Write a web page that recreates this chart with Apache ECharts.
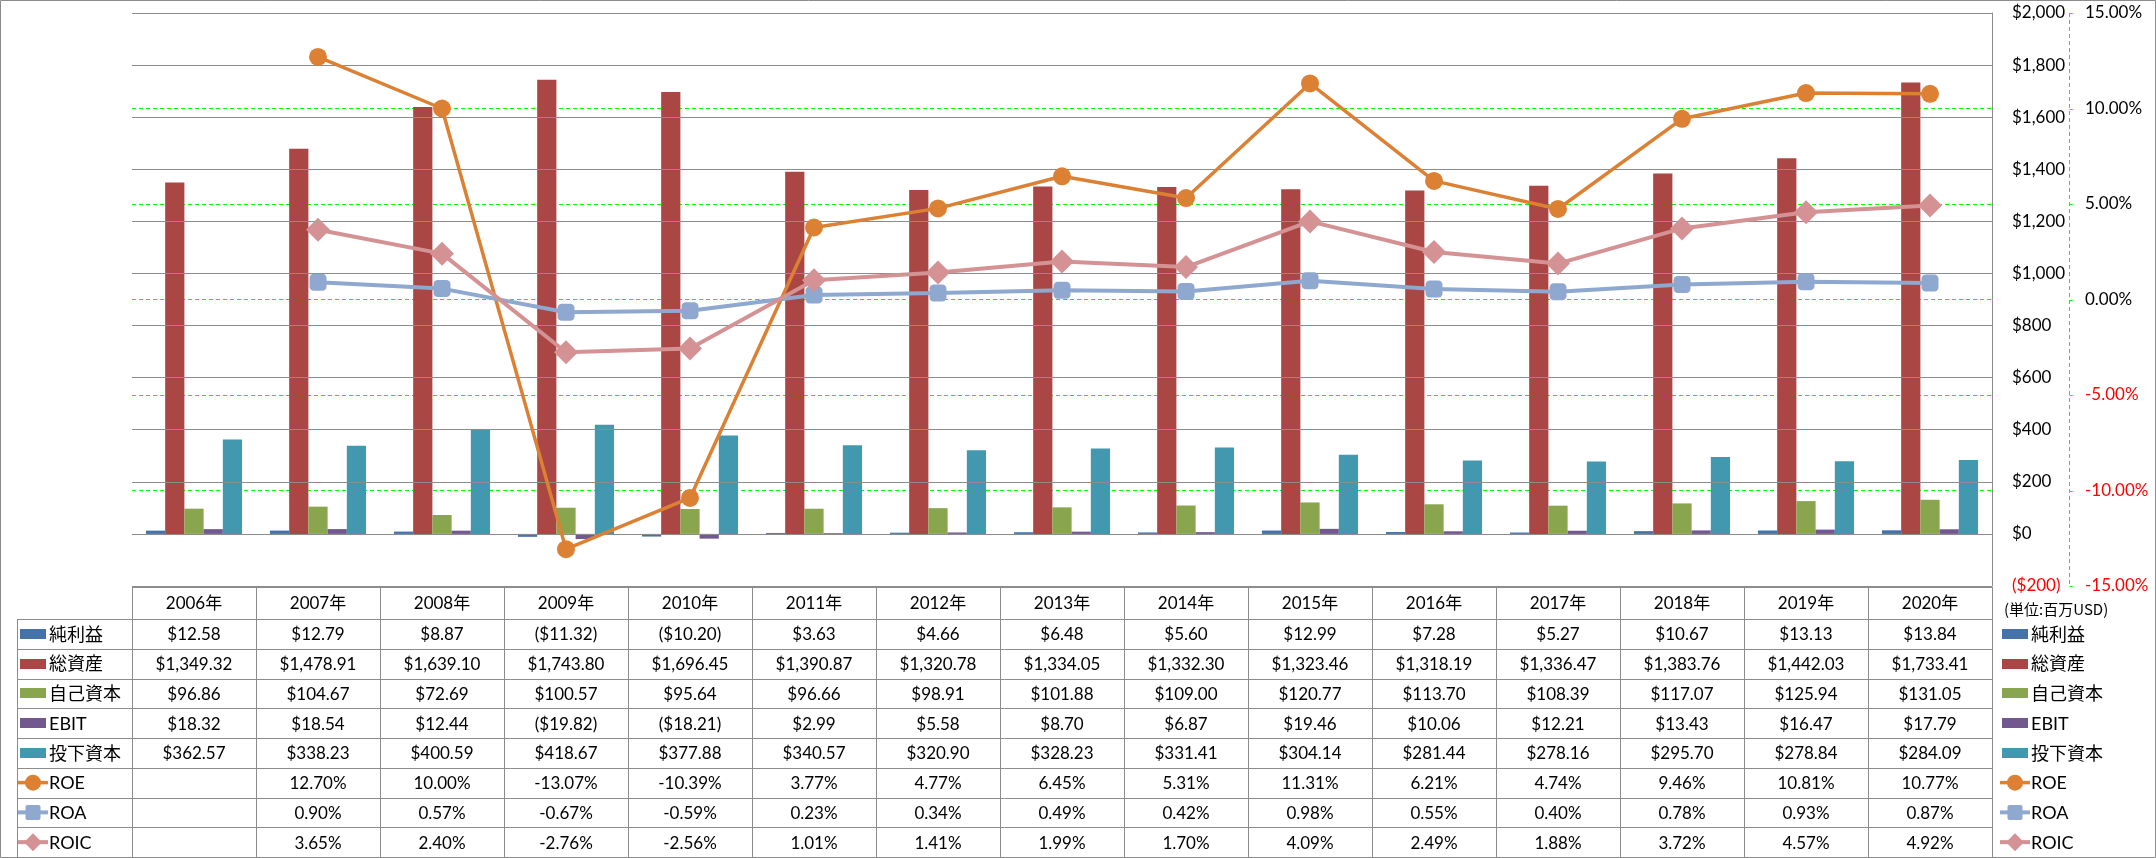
<!DOCTYPE html>
<html>
<head>
<meta charset="utf-8">
<script src="https://cdn.jsdelivr.net/npm/echarts@6/dist/echarts.min.js"></script>
<style>
html,body{margin:0;padding:0;background:#fff;}
#chart{width:2156px;height:858px;}
</style>
</head>
<body>
<div id="chart"></div>
<script>
const years = ['2006年','2007年','2008年','2009年','2010年','2011年','2012年','2013年','2014年','2015年','2016年','2017年','2018年','2019年','2020年'];
const netIncome = [12.58, 12.79, 8.87, -11.32, -10.20, 3.63, 4.66, 6.48, 5.60, 12.99, 7.28, 5.27, 10.67, 13.13, 13.84];
const totalAssets = [1349.32, 1478.91, 1639.10, 1743.80, 1696.45, 1390.87, 1320.78, 1334.05, 1332.30, 1323.46, 1318.19, 1336.47, 1383.76, 1442.03, 1733.41];
const equity = [96.86, 104.67, 72.69, 100.57, 95.64, 96.66, 98.91, 101.88, 109.00, 120.77, 113.70, 108.39, 117.07, 125.94, 131.05];
const ebit = [18.32, 18.54, 12.44, -19.82, -18.21, 2.99, 5.58, 8.70, 6.87, 19.46, 10.06, 12.21, 13.43, 16.47, 17.79];
const investedCapital = [362.57, 338.23, 400.59, 418.67, 377.88, 340.57, 320.90, 328.23, 331.41, 304.14, 281.44, 278.16, 295.70, 278.84, 284.09];
const roe = [null, 12.70, 10.00, -13.07, -10.39, 3.77, 4.77, 6.45, 5.31, 11.31, 6.21, 4.74, 9.46, 10.81, 10.77];
const roa = [null, 0.90, 0.57, -0.67, -0.59, 0.23, 0.34, 0.49, 0.42, 0.98, 0.55, 0.40, 0.78, 0.93, 0.87];
const roic = [null, 3.65, 2.40, -2.76, -2.56, 1.01, 1.41, 1.99, 1.70, 4.09, 2.49, 1.88, 3.72, 4.57, 4.92];
const pctTicks = [-15, -10, -5, 0, 5, 10, 15];

const barNames = ['純利益','総資産','自己資本','EBIT','投下資本'];
const lineNames = ['ROE','ROA','ROIC'];
const unitLabel = '(単位:百万USD)';

const barData = [netIncome, totalAssets, equity, ebit, investedCapital];
const lineData = [roe, roa, roic];
const barColors = ['#4572A7','#AA4643','#89A54E','#71588F','#4198AF'];
const lineColors = ['#DC8134','#8EA8CF','#D49294'];
const lineSymbols = ['circle','roundRect','diamond'];
const lineSymbolSizes = [18, 17, 24];
const lineWidths = [3.5, 4, 4];

const FONT = 'Lato, "Noto Sans CJK JP", sans-serif';
const CJK = '"Noto Sans CJK JP", sans-serif';

// layout
const GL = 132, GR = 1992, GT = 13, GB = 587, HB = 619, TB = 857, LC = 17;
const PCT_OFFSET = 77;
const colW = (GR - GL) / years.length;
const rowH = (TB - HB) / 8;

function fmtUSD(v){
  const s = '$' + Math.abs(v).toLocaleString('en-US',{minimumFractionDigits:2, maximumFractionDigits:2});
  return v < 0 ? '(' + s + ')' : s;
}
function fmtPct(v){
  return v == null ? '' : v.toFixed(2) + '%';
}

const series = [];
barNames.forEach((n, i) => {
  series.push({
    name: n, type: 'bar', yAxisIndex: 0, data: barData[i],
    barGap: '0%', barCategoryGap: '22.5%',
    itemStyle: {color: barColors[i]}
  });
});
lineNames.forEach((n, i) => {
  series.push({
    name: n, type: 'line', yAxisIndex: 1, data: lineData[i],
    symbol: lineSymbols[i], symbolSize: lineSymbolSizes[i],
    lineStyle: {color: lineColors[i], width: lineWidths[i]},
    itemStyle: {color: lineColors[i]},
    z: 3
  });
});

const chart = echarts.init(document.getElementById('chart'), null, {renderer:'canvas'});
chart.setOption({
  backgroundColor:'#fff',
  animation:false,
  textStyle:{fontFamily:FONT},
  grid:{left:GL, top:GT, width:GR - GL, height:GB - GT - 1, containLabel:false, show:false},
  xAxis:{
    type:'category', data:years, boundaryGap:true,
    axisLine:{show:false}, axisTick:{show:false}, axisLabel:{show:false}, splitLine:{show:false}
  },
  yAxis:[
    {
      type:'value', position:'right', min:-200, max:2000, interval:200, z:3,
      axisLine:{show:true, lineStyle:{color:'#8C8C8C', width:1}},
      axisTick:{show:false},
      splitLine:{show:true, lineStyle:{color:'#8C8C8C', width:1}},
      axisLabel:{
        margin:20, fontSize:17, fontFamily:FONT, color:'#000',
        formatter: v => v < 0 ? '{neg|($' + Math.abs(v).toLocaleString('en-US') + ')}' : '$' + v.toLocaleString('en-US'),
        rich:{neg:{color:'#FF0000', fontSize:17, fontFamily:FONT}}
      }
    },
    {
      type:'value', position:'right', offset:PCT_OFFSET, min:-15, max:15, interval:5, z:1,
      axisLine:{show:false},
      axisTick:{show:false},
      splitLine:{show:true, showMinLine:false, showMaxLine:false, lineStyle:{color:'#00FF00', width:1, type:[4,3]}},
      axisLabel:{
        margin:16, fontSize:17, fontFamily:FONT, color:'#000',
        formatter: v => v < 0 ? '{neg|' + v.toFixed(2) + '%}' : v.toFixed(2) + '%',
        rich:{neg:{color:'#FF0000', fontSize:17, fontFamily:FONT}}
      }
    }
  ],
  series:series
});

// graphics: table, keys, secondary axis line
const g = [];
const lineStyle = {stroke: '#8C8C8C', lineWidth: 1};
function px(v){ return Math.round(v) + 0.5; }
g.push({type:'rect', shape:{x:0.5, y:0.5, width:2155, height:857}, style:{fill:'none', stroke:'#8C8C8C', lineWidth:1}, silent:true});

// secondary (percent) axis line and ticks, positioned with the axis scale
const axX = px(GR + PCT_OFFSET);
const yTop = chart.convertToPixel({yAxisIndex:1}, 15);
const yBot = chart.convertToPixel({yAxisIndex:1}, -15);
g.push({type:'line', shape:{x1:axX, y1:yTop, x2:axX, y2:yBot}, style:{stroke:'#00FF00', lineWidth:1, lineDash:[4,3]}, silent:true});
pctTicks.forEach(v => {
  const y = px(chart.convertToPixel({yAxisIndex:1}, v));
  g.push({type:'line', shape:{x1:axX, y1:y, x2:axX + 3, y2:y}, style:{stroke:'#00FF00', lineWidth:1}, silent:true});
});

g.push({type:'line', shape:{x1:GL, y1:px(GB), x2:GR, y2:px(GB)}, style:lineStyle, silent:true});
for (let k = 0; k <= 8; k++) {
  const y = px(HB + k * rowH);
  g.push({type:'line', shape:{x1:LC, y1:y, x2:GR, y2:y}, style:lineStyle, silent:true});
}
g.push({type:'line', shape:{x1:px(LC), y1:HB, x2:px(LC), y2:TB}, style:lineStyle, silent:true});
for (let i = 0; i <= years.length; i++) {
  const x = px(GL + i * colW);
  g.push({type:'line', shape:{x1:x, y1:GB, x2:x, y2:TB}, style:lineStyle, silent:true});
}
const CELL_FONT = '17px ' + FONT;
years.forEach((yr, i) => {
  const cx = GL + (i + 0.5) * colW;
  g.push({type:'text', x:cx, y:(GB + HB) / 2 + 1, style:{text:yr, font:CELL_FONT, fill:'#000', align:'center', verticalAlign:'middle'}, silent:true});
  barData.forEach((arr, r) => {
    g.push({type:'text', x:cx, y:HB + (r + 0.5) * rowH + 1, style:{text:fmtUSD(arr[i]), font:CELL_FONT, fill:'#000', align:'center', verticalAlign:'middle'}, silent:true});
  });
  lineData.forEach((arr, r) => {
    g.push({type:'text', x:cx, y:HB + (r + 5.5) * rowH + 1, style:{text:fmtPct(arr[i]), font:CELL_FONT, fill:'#000', align:'center', verticalAlign:'middle'}, silent:true});
  });
});
g.push({type:'text', x:2004, y:609, style:{text:unitLabel, font:'15px ' + CJK, fill:'#000', align:'left', verticalAlign:'middle'}, silent:true});

const KEY_FONT = '18px ' + FONT;
function symbolShape(type, cx, cy, color){
  if (type === 'circle') return {type:'circle', shape:{cx:cx, cy:cy, r:8}, style:{fill:color}, silent:true, z:10};
  if (type === 'roundRect') return {type:'rect', shape:{x:cx-7.5, y:cy-7.5, width:15, height:15, r:2}, style:{fill:color}, silent:true, z:10};
  return {type:'polygon', shape:{points:[[cx, cy-9],[cx+9, cy],[cx, cy+9],[cx-9, cy]]}, style:{fill:color}, silent:true, z:10};
}
function addKeys(barX, lineX){
  barNames.forEach((n, r) => {
    const cy = HB + (r + 0.5) * rowH;
    g.push({type:'rect', shape:{x:barX, y:Math.round(cy - 5), width:26, height:10}, style:{fill:barColors[r]}, silent:true, z:10});
    g.push({type:'text', x:barX + 29, y:cy + 1, style:{text:n, font:KEY_FONT, fill:'#000', align:'left', verticalAlign:'middle'}, silent:true, z:10});
  });
  lineNames.forEach((n, r) => {
    const cy = HB + (r + 5.5) * rowH;
    g.push({type:'line', shape:{x1:lineX, y1:cy, x2:lineX + 30, y2:cy}, style:{stroke:lineColors[r], lineWidth:lineWidths[r]}, silent:true, z:10});
    g.push(symbolShape(lineSymbols[r], lineX + 15, cy, lineColors[r]));
    g.push({type:'text', x:lineX + 31, y:cy + 1, style:{text:n, font:KEY_FONT, fill:'#000', align:'left', verticalAlign:'middle'}, silent:true, z:10});
  });
}
addKeys(20, 18);
addKeys(2002, 2000);

chart.setOption({graphic:{elements:g}});
</script>
</body>
</html>
